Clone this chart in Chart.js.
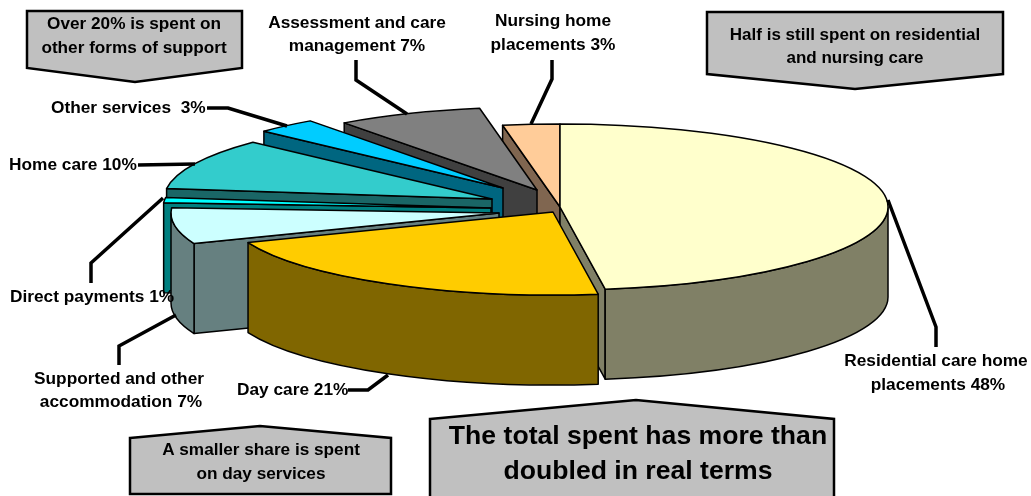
<!DOCTYPE html>
<html>
<head>
<meta charset="utf-8">
<title>Spending on care</title>
<style>
    html, body { margin: 0; padding: 0; background: #ffffff; }
    canvas { display: block; }
</style>
<script src="https://cdn.jsdelivr.net/npm/chart.js@4/dist/chart.umd.min.js"></script>
</head>
<body>
<canvas id="pie" width="1031" height="496"></canvas>
<script>
var categories = [
    'Residential care home placements',
    'Day care',
    'Supported and other accommodation',
    'Direct payments',
    'Home care',
    'Other services',
    'Assessment and care management',
    'Nursing home placements'
];
// the labels round these
var shares = [47.8, 21.2, 7, 1, 10, 3, 7.2, 2.8];

var topColors = ['#ffffcc', '#ffcc00', '#ccffff', '#00ffff', '#33cccc', '#00ccff', '#808080', '#ffcc99'];
var wallColors = ['#808066', '#806600', '#668080', '#008080', '#1a6666', '#006680', '#404040', '#806650'];

// how far each slice is pulled out of the pie, in px on screen
var shiftX = [0, -7, -61, -69, -68, -57, -23, 0];
var shiftY = [0, 5, 6, 1, -8, -19, -17, 0];

// back to front
var paintOrder = [7, 0, 6, 5, 4, 3, 2, 1];

var squash = 0.253;
var depth = 90;

var leaders = [
    [[207, 108], [228, 108], [287, 126]],
    [[138, 165], [195, 164]],
    [[91, 283], [91, 263], [163, 198]],
    [[119, 365], [119, 346], [176, 315]],
    [[348, 390], [368, 390], [388, 375]],
    [[936, 347], [936, 327], [888, 200]],
    [[356, 60], [356, 80], [407, 114]],
    [[552, 60], [552, 79], [531, 124]]
];

var labels = [
    { text: 'Assessment and care', x: 357, y: 23, align: 'center' },
    { text: 'management 7%', x: 357, y: 46, align: 'center' },
    { text: 'Nursing home', x: 553, y: 21, align: 'center' },
    { text: 'placements 3%', x: 553, y: 45, align: 'center' },
    { text: 'Other services  3%', x: 51, y: 108, align: 'left' },
    { text: 'Home care 10%', x: 9, y: 165, align: 'left' },
    { text: 'Direct payments 1%', x: 10, y: 297, align: 'left' },
    { text: 'Supported and other', x: 119, y: 379, align: 'center' },
    { text: 'accommodation 7%', x: 121, y: 402, align: 'center' },
    { text: 'Day care 21%', x: 237, y: 390, align: 'left' },
    { text: 'Residential care home', x: 936, y: 361, align: 'center' },
    { text: 'placements 48%', x: 938, y: 385, align: 'center' }
];

var callouts = [
    { points: [[27, 11], [242, 11], [242, 68], [135, 82], [27, 68]], lines: ['Over 20% is spent on', 'other forms of support'], x: 134, y: [24, 48], size: 17.2 },
    { points: [[707, 12], [1003, 12], [1003, 74], [855, 89], [707, 74]], lines: ['Half is still spent on residential', 'and nursing care'], x: 855, y: [35, 58], size: 17 },
    { points: [[130, 438], [260, 426], [391, 438], [391, 494], [130, 494]], lines: ['A smaller share is spent', 'on day services'], x: 261, y: [450, 474], size: 17.2 },
    { points: [[430, 419], [636, 400], [834, 419], [834, 500], [430, 500]], lines: ['The total spent has more than', 'doubled in real terms'], x: 638, y: [437, 472], size: 26.6 }
];

function drawSlice(ctx, arc, i) {
    var p = arc.getProps(['x', 'y', 'startAngle', 'endAngle', 'outerRadius'], true);
    var cx = p.x + shiftX[i];
    var cy = p.y + shiftY[i];
    var rx = p.outerRadius;
    var ry = rx * squash;
    var a0 = p.startAngle;
    var a1 = p.endAngle;

    ctx.lineWidth = 1.5;
    ctx.lineJoin = 'round';
    ctx.strokeStyle = '#000000';
    ctx.fillStyle = wallColors[i];

    // cut faces that look towards the viewer
    [[a0, Math.cos(a0) < 0], [a1, Math.cos(a1) > 0]].forEach(function (face) {
        if (!face[1]) {
            return;
        }
        ctx.beginPath();
        ctx.moveTo(cx, cy);
        ctx.lineTo(cx + rx * Math.cos(face[0]), cy + ry * Math.sin(face[0]));
        ctx.lineTo(cx + rx * Math.cos(face[0]), cy + ry * Math.sin(face[0]) + depth);
        ctx.lineTo(cx, cy + depth);
        ctx.closePath();
        ctx.fill();
        ctx.stroke();
    });

    // outer wall, only the front half of the rim
    var from = Math.max(a0, 0);
    var to = Math.min(a1, Math.PI);
    if (to > from) {
        ctx.beginPath();
        ctx.ellipse(cx, cy, rx, ry, 0, from, to);
        ctx.lineTo(cx + rx * Math.cos(to), cy + ry * Math.sin(to) + depth);
        ctx.ellipse(cx, cy + depth, rx, ry, 0, to, from, true);
        ctx.closePath();
        ctx.fill();
        ctx.stroke();
    }

    // top face: the library's own arc, flattened
    ctx.save();
    ctx.translate(cx, cy);
    ctx.scale(1, squash);
    ctx.translate(-p.x, -p.y);
    arc.draw(ctx);
    ctx.restore();

    ctx.beginPath();
    ctx.moveTo(cx, cy);
    ctx.ellipse(cx, cy, rx, ry, 0, a0, a1);
    ctx.closePath();
    ctx.stroke();
}

function drawAnnotations(ctx) {
    ctx.lineCap = 'butt';
    ctx.lineJoin = 'miter';
    ctx.strokeStyle = '#000000';
    ctx.lineWidth = 3.5;
    leaders.forEach(function (line) {
        ctx.beginPath();
        line.forEach(function (pt, i) {
            if (i === 0) {
                ctx.moveTo(pt[0], pt[1]);
            } else {
                ctx.lineTo(pt[0], pt[1]);
            }
        });
        ctx.stroke();
    });

    ctx.fillStyle = '#000000';
    ctx.textBaseline = 'middle';
    ctx.font = 'bold 17.3px "Liberation Sans"';
    labels.forEach(function (label) {
        ctx.textAlign = label.align;
        ctx.fillText(label.text, label.x, label.y);
    });

    callouts.forEach(function (box) {
        ctx.beginPath();
        box.points.forEach(function (pt, i) {
            if (i === 0) {
                ctx.moveTo(pt[0], pt[1]);
            } else {
                ctx.lineTo(pt[0], pt[1]);
            }
        });
        ctx.closePath();
        ctx.fillStyle = '#c0c0c0';
        ctx.fill();
        ctx.lineWidth = 2.5;
        ctx.stroke();

        ctx.fillStyle = '#000000';
        ctx.textAlign = 'center';
        ctx.font = 'bold ' + box.size + 'px "Liberation Sans"';
        box.lines.forEach(function (line, i) {
            ctx.fillText(line, box.x, box.y[i]);
        });
    });
}

var pie3d = {
    id: 'pie3d',
    beforeDatasetsDraw: function (chart) {
        var arcs = chart.getDatasetMeta(0).data;
        paintOrder.forEach(function (i) {
            drawSlice(chart.ctx, arcs[i], i);
        });
        drawAnnotations(chart.ctx);
        return false;
    }
};

new Chart(document.getElementById('pie'), {
    type: 'pie',
    data: {
        labels: categories,
        datasets: [{
            data: shares,
            backgroundColor: topColors,
            borderWidth: 0,
            radius: 328
        }]
    },
    options: {
        responsive: false,
        animation: false,
        layout: { padding: { left: 89, bottom: 82 } },
        plugins: { legend: { display: false }, tooltip: { enabled: false } }
    },
    plugins: [pie3d]
});
</script>
</body>
</html>
